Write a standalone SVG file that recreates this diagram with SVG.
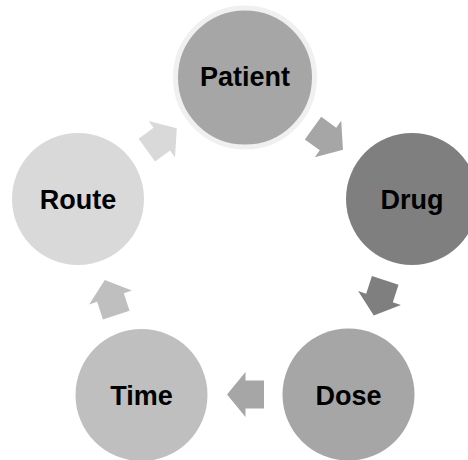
<svg xmlns="http://www.w3.org/2000/svg" xmlns:xlink="http://www.w3.org/1999/xlink" width="468" height="460" viewBox="0 0 468 460">
<style>
.lbl{font-family:"Liberation Sans",Arial,sans-serif;font-weight:bold;font-size:27px;fill:#000;text-anchor:middle}
.c1{fill:#a6a6a6}
.c2{fill:#7f7f7f}
.c3{fill:#a6a6a6}
.c4{fill:#bfbfbf}
.c5{fill:#d9d9d9}
</style>
<defs>
<path id="arr" d="M-18.5,-14 H0 V-22.5 L18.5,0 L0,22.5 V14 H-18.5 Z"/>
</defs>
<rect width="468" height="460" fill="#fff"/>
<g id="connectors">
<use xlink:href="#arr" class="c1" transform="translate(328,139) rotate(36)"/>
<use xlink:href="#arr" class="c2" transform="translate(379.5,298) rotate(108)"/>
<use xlink:href="#arr" class="c3" transform="translate(245.5,394.5) rotate(180)"/>
<use xlink:href="#arr" class="c4" transform="translate(110.5,297.5) rotate(252)"/>
<use xlink:href="#arr" class="c5" transform="translate(161.8,139.2) rotate(324)"/>
</g>
<g id="patient">
<circle cx="245" cy="77.5" r="69.5" class="c1" stroke="#f0f0f0" stroke-width="5"/>
<text class="lbl" x="245" y="86">Patient</text>
</g>
<g id="drug">
<circle cx="412" cy="199" r="66" class="c2"/>
<text class="lbl" x="412" y="209">Drug</text>
</g>
<g id="dose">
<circle cx="348.5" cy="394.5" r="66" class="c3"/>
<text class="lbl" x="348.5" y="404.5">Dose</text>
</g>
<g id="time">
<circle cx="141.5" cy="395" r="66" class="c4"/>
<text class="lbl" x="141.5" y="405">Time</text>
</g>
<g id="route">
<circle cx="78" cy="199" r="66" class="c5"/>
<text class="lbl" x="78" y="209">Route</text>
</g>
</svg>
